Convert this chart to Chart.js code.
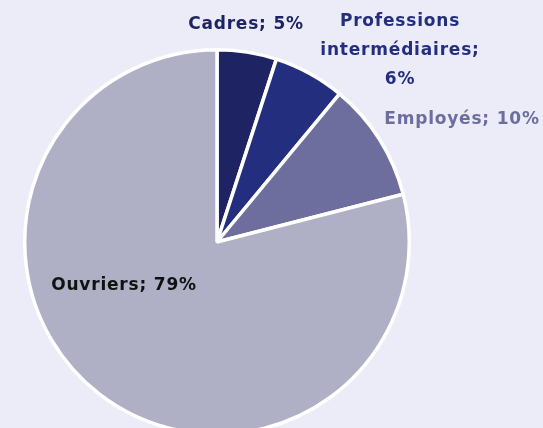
<!DOCTYPE html>
<html lang="fr">
<head>
<meta charset="utf-8">
<script src="https://cdn.jsdelivr.net/npm/chart.js@4/dist/chart.umd.min.js"></script>
<style>
  html, body { margin: 0; padding: 0; background: #ebecf8; overflow: hidden; }
  #wrap { position: relative; width: 543px; height: 440px; }
</style>
</head>
<body>
<div id="wrap"><canvas id="myChart"></canvas></div>
<script>
// Data
const categories = ["Cadres", "Professions intermédiaires", "Employés", "Ouvriers"];
const values = [5, 6, 10, 79];
const labelLines = [
  ["Cadres; 5%"],
  ["Professions", "intermédiaires;", "6%"],
  ["Employés; 10%"],
  ["Ouvriers; 79%"],
];

// Styles
const sliceColors = ["#1e2463", "#232e7e", "#6d6d9e", "#afafc6"];
const labelColors = ["#1e2463", "#232e7e", "#6d6d9e", "#111111"];
// label offsets from the pie centre (px)
const labelOffsets = [
  { dx: 29, dy: -217 },
  { dx: 183, dy: -191 },
  { dx: 245, dy: -122 },
  { dx: -93, dy: 44 },
];

const ctx = document.getElementById("myChart");

new Chart(ctx, {
  type: "pie",
  data: {
    labels: categories,
    datasets: [
      {
        data: values,
        backgroundColor: sliceColors,
        borderColor: "#ffffff",
        borderWidth: 3.5,
      },
    ],
  },
  options: {
    responsive: true,
    maintainAspectRatio: false,
    animation: false,
    layout: {
      padding: { top: 48, bottom: 4, left: 23, right: 132 },
    },
    plugins: {
      legend: { display: false },
      tooltip: { enabled: false },
    },
  },
  plugins: [
    {
      id: "slice_labels",
      afterDraw(chart) {
        const { ctx } = chart;
        const meta = chart.getDatasetMeta(0);
        ctx.save();
        ctx.font = "bold 17px 'DejaVu Sans'";
        ctx.letterSpacing = "0.8px";
        ctx.textAlign = "center";
        ctx.textBaseline = "middle";
        meta.data.forEach((arc, i) => {
          const lines = labelLines[i];
          const off = labelOffsets[i];
          const lineH = 29;
          const top = arc.y + off.dy - ((lines.length - 1) * lineH) / 2;
          ctx.fillStyle = labelColors[i];
          lines.forEach((line, j) => {
            ctx.fillText(line, arc.x + off.dx, top + j * lineH);
          });
        });
        ctx.restore();
      },
    },
  ],
});
</script>
</body>
</html>
